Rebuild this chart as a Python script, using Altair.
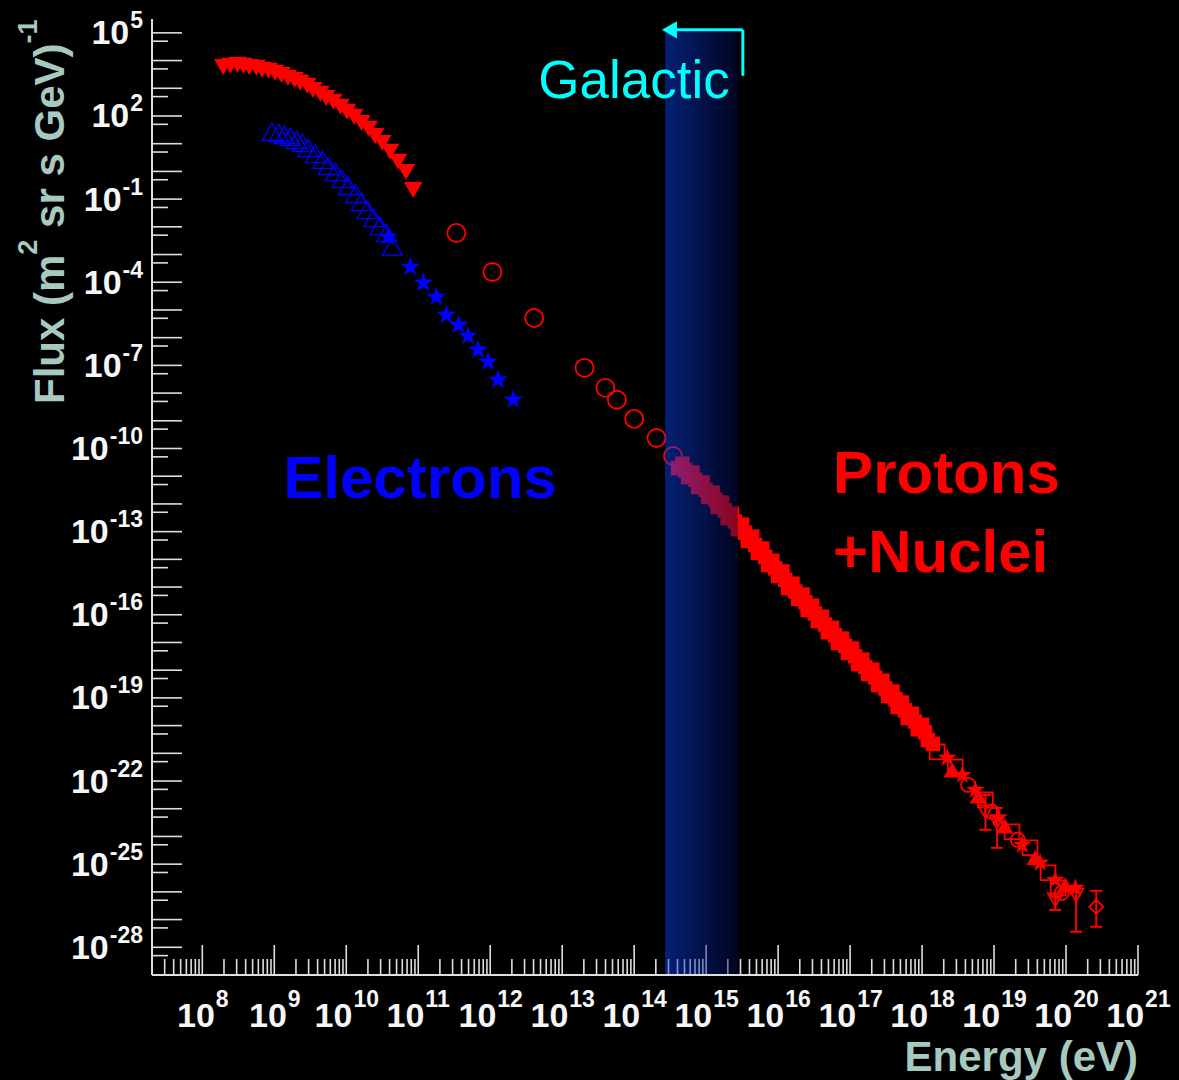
import altair as alt
import numpy as np
import pandas as pd

# ---------------------------------------------------------------------------
# Cosmic-ray spectrum: every data set is stored as log10(E / eV) and
# log10(flux / (m^2 sr s GeV)^-1)
# ---------------------------------------------------------------------------

# low-energy protons (filled down triangles)
p_low_logE = [8.29, 8.39, 8.49, 8.57, 8.65, 8.75, 8.83, 8.92, 9.01, 9.10,
              9.19, 9.28, 9.36, 9.46, 9.54, 9.64, 9.72, 9.82, 9.92, 10.01,
              10.11, 10.21, 10.31, 10.40, 10.50, 10.61, 10.72, 10.83, 10.93]
p_low_logF = [3.77, 3.81, 3.85, 3.81, 3.77, 3.74, 3.67, 3.63, 3.56, 3.48,
              3.38, 3.30, 3.20, 3.09, 2.94, 2.80, 2.65, 2.51, 2.33, 2.15,
              1.97, 1.75, 1.54, 1.28, 1.03, 0.71, 0.35, -0.02, -0.67]

# electrons (open up triangles)
e_tri_logE = [8.97, 9.06, 9.14, 9.22, 9.31, 9.39, 9.47, 9.57, 9.67, 9.75,
              9.85, 9.94, 10.03, 10.13, 10.21, 10.29, 10.38, 10.47, 10.56, 10.64]
e_tri_logF = [1.43, 1.39, 1.32, 1.25, 1.14, 1.03, 0.85, 0.63, 0.42, 0.20,
              -0.02, -0.27, -0.52, -0.81, -1.10, -1.39, -1.68, -1.97, -2.22, -2.72]

# electrons (filled stars)
e_star_logE = [10.58, 10.89, 11.07, 11.25, 11.39, 11.56, 11.69, 11.83, 11.97, 12.11, 12.32]
e_star_logF = [-2.36, -3.45, -4.02, -4.53, -5.18, -5.54, -5.94, -6.44, -6.87, -7.52, -8.24]

# direct measurements of protons + nuclei (open circles)
p_circ_logE = [11.53, 12.03, 12.61, 13.31, 13.60, 13.76, 14.00, 14.31, 14.54]
p_circ_logF = [-2.22, -3.63, -5.29, -7.09, -7.81, -8.24, -8.93, -9.62, -10.27]

# air-shower data around the knee (filled squares, three data sets)
knee_a_logE = [14.61, 14.75, 14.89, 15.03, 15.16, 15.30, 15.44, 15.58, 15.72, 15.86,
               16.00, 16.14, 16.28, 16.41, 16.55, 16.69, 16.83, 16.97, 17.11, 17.25,
               17.39, 17.53, 17.66, 17.80, 17.94, 18.08]
knee_a_logF = [-10.71, -11.03, -11.39, -11.75, -12.11, -12.51, -12.91, -13.34, -13.77, -14.21,
               -14.60, -15.04, -15.43, -15.83, -16.23, -16.63, -17.02, -17.38, -17.78, -18.14,
               -18.54, -18.93, -19.33, -19.73, -20.13, -20.52]
knee_b_logE = [14.67, 14.81, 14.95, 15.09, 15.22, 15.36, 15.50, 15.64, 15.78, 15.92,
               16.06, 16.20, 16.34, 16.47, 16.61, 16.75, 16.89, 17.03, 17.17, 17.31,
               17.45, 17.59, 17.72, 17.86, 18.00]
knee_b_logF = [-10.55, -10.87, -11.23, -11.59, -11.95, -12.35, -12.75, -13.18, -13.61, -14.05,
               -14.44, -14.88, -15.27, -15.67, -16.07, -16.47, -16.86, -17.22, -17.62, -17.98,
               -18.38, -18.77, -19.17, -19.57, -19.97]
knee_c_logE = [14.71, 14.85, 14.99, 15.13, 15.26, 15.40, 15.54, 15.68, 15.82, 15.96,
               16.10, 16.24, 16.38, 16.51, 16.65, 16.79, 16.93, 17.07, 17.21, 17.35,
               17.49, 17.63, 17.76, 17.90, 18.04, 18.15]
knee_c_logF = [-10.79, -11.13, -11.49, -11.85, -12.23, -12.63, -13.04, -13.48, -13.91, -14.33,
               -14.74, -15.16, -15.55, -15.95, -16.35, -16.74, -17.12, -17.50, -17.88, -18.26,
               -18.66, -19.05, -19.45, -19.85, -20.24, -20.66]

# ultra-high-energy data sets
uhe_sq_logE = [18.21, 18.46, 18.88, 19.25, 19.50, 19.75, 19.89]
uhe_sq_logF = [-20.95, -21.49, -22.68, -23.83, -24.41, -25.31, -25.86]
uhe_star_logE = [18.35, 18.56, 18.74, 19.06, 19.39, 19.64, 19.85, 20.13]
uhe_star_logF = [-21.16, -21.78, -22.32, -23.33, -24.30, -24.95, -25.57, -25.86]
uhe_circ_logE = [18.64, 18.97, 19.33, 19.94]
uhe_circ_logF = [-22.14, -23.11, -24.12, -26.04]
uhe_tri_logE = [18.42, 18.78, 19.15, 19.57, 19.99]
uhe_tri_logF = [-21.60, -22.54, -23.62, -24.77, -25.75]

# points with error bars (value, low, high)
err_logE = [18.88, 19.04, 19.85, 20.14]
err_logF = [-23.11, -23.47, -26.29, -26.11]
err_lo = [-23.76, -24.41, -26.65, -27.44]
err_hi = [-22.50, -22.97, -26.18, -25.78]
last_logE = [20.42]
last_logF = [-26.54]
last_lo = [-27.26]
last_hi = [-25.96]

# knee band and "Galactic" marker
band_logE = [14.43, 15.44]
band_top_logF = 5.07
arrow_logE = [15.51, 14.49]       # corner, arrow head
arrow_logF = [3.45, 5.11]         # bottom of riser, level of arrow

# annotations: text, log10(E) of left edge, log10(flux) of baseline
species_text = ["Electrons", "Protons", "+Nuclei"]
species_logE = [9.125, 16.764, 16.764]
species_logF = [-11.78, -11.60, -14.44]
galactic_text = "Galactic"
galactic_logE = 12.667
galactic_logF = 2.654

# tick labels
x_label_exps = [8, 9, 10, 11, 12, 13, 14, 15, 16, 17, 18, 19, 20, 21]
y_label_exps = [5, 2, -1, -4, -7, -10, -13, -16, -19, -22, -25, -28]
x_title = "Energy (eV)"
y_title_parts = ["Flux (m", "2", "sr s GeV)", "-1"]

# ---------------------------------------------------------------------------
W, H = 986, 956
xs = alt.Scale(type="log", domain=[2e7, 1e21], nice=False)
ys = alt.Scale(type="log", domain=[1e-29, 10 ** 5.5], nice=False)

RED, BLUE, CYAN = "#ff0000", "#0000ff", "#00ffff"
AXIS, LABEL, TITLE = "#dedede", "#f6f6f6", "#a8c9bf"
FONT = "Liberation Sans"

STAR = ("M0,-1L0.235,-0.324L0.951,-0.309L0.38,0.124L0.588,0.809L0,0.4"
        "L-0.588,0.809L-0.38,0.124L-0.951,-0.309L-0.235,-0.324Z")


def pow10(v):
    return np.power(10.0, np.asarray(v, dtype=float))


def frame(logE, logF):
    return pd.DataFrame({"E": pow10(logE), "F": pow10(logF)})


X = alt.X("E:Q", scale=xs, axis=None)
Y = alt.Y("F:Q", scale=ys, axis=None)


def markers(logE, logF, shape, size, color, filled, sw=1.5):
    if filled:
        m = alt.Chart(frame(logE, logF)).mark_point(
            shape=shape, size=size, filled=True, color=color,
            strokeWidth=0.6, opacity=1)
    else:
        m = alt.Chart(frame(logE, logF)).mark_point(
            shape=shape, size=size, filled=False, color=color,
            strokeWidth=sw, opacity=1)
    return m.encode(x=X, y=Y)


def errorbars(logE, lo, hi):
    df = pd.DataFrame({"E": pow10(logE), "lo": pow10(lo), "hi": pow10(hi)})
    bar = alt.Chart(df).mark_rule(color=RED, strokeWidth=2).encode(
        x=X, y=alt.Y("lo:Q", scale=ys, axis=None), y2="hi:Q")
    caps = [alt.Chart(df).mark_tick(orient="horizontal", size=12, thickness=2,
                                    color=RED, opacity=1).encode(
        x=X, y=alt.Y(f"{c}:Q", scale=ys, axis=None)) for c in ("lo", "hi")]
    return [bar] + caps


one = pd.DataFrame({"k": [0]})

# axis lines
axis_lines = [
    alt.Chart(one).mark_rule(color=AXIS, strokeWidth=2).encode(
        x=alt.value(0), y=alt.value(0), y2=alt.value(H)),
    alt.Chart(one).mark_rule(color=AXIS, strokeWidth=2).encode(
        x=alt.value(0), x2=alt.value(W), y=alt.value(H)),
]

# inward ticks
y_major = pd.DataFrame({"v": [10.0 ** n for n in range(-28, 6)]})
y_minor = pd.DataFrame({"v": [5 * 10.0 ** n for n in range(-29, 5)]})
x_major = pd.DataFrame({"v": [10.0 ** n for n in range(8, 22)]})
x_minor = pd.DataFrame({"v": [k * 10.0 ** n for n in range(7, 21) for k in range(2, 10)
                              if k * 10.0 ** n >= 3e7]})
YV = alt.Y("v:Q", scale=ys, axis=None)
XV = alt.X("v:Q", scale=xs, axis=None)
ticks = [
    alt.Chart(y_major).mark_rule(color=AXIS, strokeWidth=1.6).encode(
        y=YV, x=alt.value(0), x2=alt.value(30)),
    alt.Chart(y_minor).mark_rule(color=AXIS, strokeWidth=1.6).encode(
        y=YV, x=alt.value(0), x2=alt.value(16)),
    alt.Chart(x_major).mark_rule(color=AXIS, strokeWidth=1.6).encode(
        x=XV, y=alt.value(H), y2=alt.value(H - 30)),
    alt.Chart(x_minor).mark_rule(color=AXIS, strokeWidth=1.6).encode(
        x=XV, y=alt.value(H), y2=alt.value(H - 16)),
]

# data
data_layers = [
    markers(p_low_logE, p_low_logF, "triangle-down", 340, RED, True),
    markers(e_tri_logE, e_tri_logF, "triangle-up", 400, BLUE, False, 1.3),
    markers(e_star_logE, e_star_logF, STAR, 420, BLUE, True),
    markers(p_circ_logE, p_circ_logF, "circle", 324, RED, False, 1.8),
    markers(knee_a_logE, knee_a_logF, "square", 210, RED, True),
    markers(knee_b_logE, knee_b_logF, "square", 210, RED, True),
    markers(knee_c_logE, knee_c_logF, "square", 210, RED, True),
    markers(uhe_sq_logE, uhe_sq_logF, "square", 220, RED, False, 1.8),
    markers(uhe_tri_logE, uhe_tri_logF, "triangle-up", 300, RED, True),
    markers(uhe_star_logE, uhe_star_logF, STAR, 380, RED, True),
    markers(uhe_circ_logE, uhe_circ_logF, "circle", 200, RED, False, 1.8),
    markers(err_logE, err_logF, "triangle-down", 220, RED, False, 1.8),
    markers(last_logE, last_logF, "diamond", 200, RED, False, 1.8),
] + errorbars(err_logE, err_lo, err_hi) + errorbars(last_logE, last_lo, last_hi)

# knee band drawn over the data
band_df = pd.DataFrame({"E": [10 ** band_logE[0]], "E2": [10 ** band_logE[1]],
                        "F": [1e-29], "F2": [10 ** band_top_logF]})
band_fill = {"gradient": "linear", "x1": 0, "x2": 1, "y1": 0, "y2": 0,
             "stops": [{"offset": 0, "color": "#0a46ff"},
                       {"offset": 1, "color": "#000946"}]}
band = alt.Chart(band_df).mark_rect(fill=band_fill, opacity=0.46).encode(
    x=X, x2="E2:Q", y=Y, y2="F2:Q")

# Galactic arrow
aE, aF = pow10(arrow_logE), pow10(arrow_logF)
arrow_df = pd.DataFrame({"E": [aE[0], aE[0]], "E2": [aE[0], aE[1]],
                         "F": [aF[0], aF[1]], "F2": [aF[1], aF[1]]})
arrow = [
    alt.Chart(arrow_df).mark_rule(color=CYAN, strokeWidth=3).encode(
        x=X, x2="E2:Q", y=Y, y2="F2:Q"),
    alt.Chart(pd.DataFrame({"E": [aE[1]], "F": [aF[1]]})).mark_point(
        shape="triangle-left", size=300, filled=True, color=CYAN, opacity=1).encode(x=X, y=Y),
]

# annotation texts
species_df = pd.DataFrame({"E": pow10(species_logE), "F": pow10(species_logF),
                           "t": species_text,
                           "c": ["e", "p", "p"]})
species = alt.Chart(species_df).mark_text(
    align="left", baseline="alphabetic", font=FONT, fontWeight="bold", fontSize=60).encode(
    x=X, y=Y, text="t:N",
    color=alt.Color("c:N", scale=alt.Scale(domain=["e", "p"], range=[BLUE, RED]), legend=None))
galactic = alt.Chart(pd.DataFrame({"E": [10 ** galactic_logE], "F": [10 ** galactic_logF],
                                   "t": [galactic_text]})).mark_text(
    align="left", baseline="alphabetic", font=FONT, fontSize=53, color=CYAN).encode(
    x=X, y=Y, text="t:N")

# tick labels: "10" with a raised exponent
BASE_FS, SUP_FS = 34, 23
BASE_W = 1.112 * BASE_FS


def sup_width(s):
    return sum(0.333 * SUP_FS if ch == "-" else 0.556 * SUP_FS for ch in s)


label_layers = []
for n_chars in sorted({len(str(e)) for e in x_label_exps}):
    exps = [e for e in x_label_exps if len(str(e)) == n_chars]
    df = pd.DataFrame({"E": [10.0 ** e for e in exps], "b": ["10"] * len(exps),
                       "s": [str(e) for e in exps]})
    shift = (BASE_W - sup_width(str(exps[0]))) / 2
    label_layers.append(alt.Chart(df).mark_text(
        align="right", baseline="alphabetic", dx=shift, font=FONT, fontWeight="bold",
        fontSize=BASE_FS, color=LABEL).encode(x=X, y=alt.value(H + 52), text="b:N"))
    label_layers.append(alt.Chart(df).mark_text(
        align="left", baseline="alphabetic", dx=shift + 1, font=FONT, fontWeight="bold",
        fontSize=SUP_FS, color=LABEL).encode(x=X, y=alt.value(H + 32), text="s:N"))

for n_chars in sorted({len(str(e)) for e in y_label_exps}):
    exps = [e for e in y_label_exps if len(str(e)) == n_chars]
    df = pd.DataFrame({"F": [10.0 ** e for e in exps], "b": ["10"] * len(exps),
                       "s": [str(e) for e in exps]})
    ws = sup_width(str(exps[0]))
    label_layers.append(alt.Chart(df).mark_text(
        align="right", baseline="alphabetic", dy=11.5, font=FONT, fontWeight="bold",
        fontSize=BASE_FS, color=LABEL).encode(x=alt.value(-10 - ws), y=Y, text="b:N"))
    label_layers.append(alt.Chart(df).mark_text(
        align="right", baseline="alphabetic", dy=-4.5, font=FONT, fontWeight="bold",
        fontSize=SUP_FS, color=LABEL).encode(x=alt.value(-9), y=Y, text="s:N"))

# axis titles
TFS, TSUP = 42, 27
x_title_layer = alt.Chart(one).mark_text(
    text=x_title, align="right", baseline="alphabetic", font=FONT, fontWeight="bold",
    fontSize=TFS, color=TITLE).encode(x=alt.value(W), y=alt.value(H + 96))

y_title_layers = []
pos = 385.0
widths = [3.556 * TFS, 0.556 * TSUP, 4.391 * TFS, 0.889 * TSUP]
for i, part in enumerate(y_title_parts):
    is_sup = i % 2 == 1
    y_title_layers.append(alt.Chart(one).mark_text(
        text=part, angle=270, align="left", baseline="alphabetic", font=FONT,
        fontWeight="bold", fontSize=TSUP if is_sup else TFS, color=TITLE).encode(
        x=alt.value(-115 if is_sup else -88), y=alt.value(pos)))
    pos -= widths[i] + (11.7 if i == 1 else 0)

chart = alt.layer(
    *ticks, *data_layers, band, *axis_lines, *arrow, species, galactic,
    *label_layers, x_title_layer, *y_title_layers
).properties(
    width=W, height=H, background="#000000",
    padding={"left": 152, "top": 19, "right": 41, "bottom": 105},
    autosize=alt.AutoSizeParams(type="none"),
).configure_view(stroke=None)

chart.save("out.html", embed_options={"renderer": "svg", "actions": False})
